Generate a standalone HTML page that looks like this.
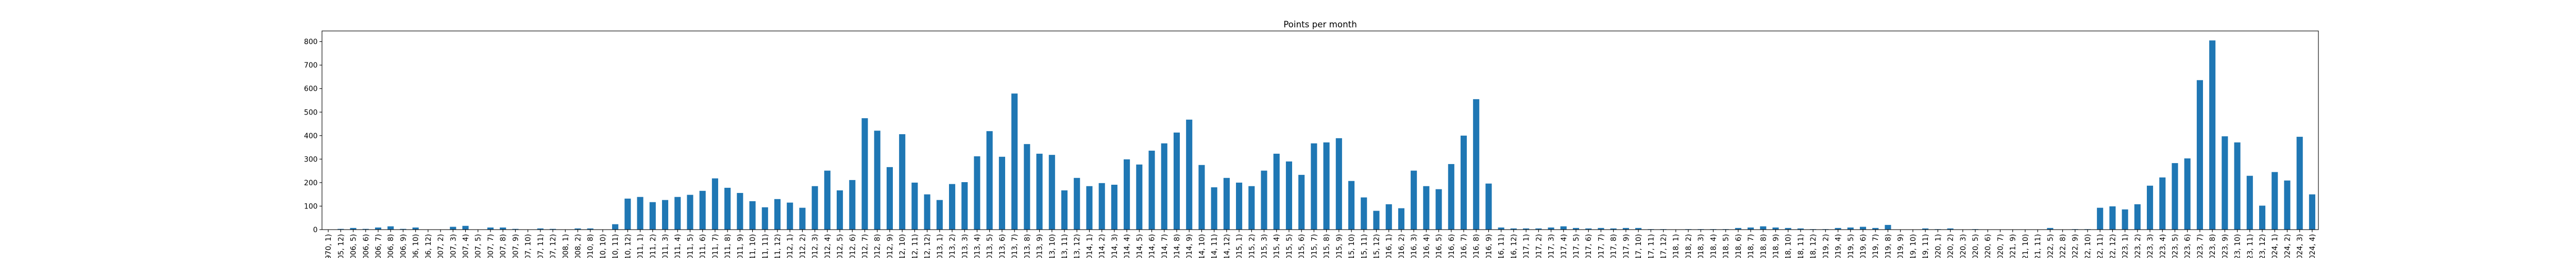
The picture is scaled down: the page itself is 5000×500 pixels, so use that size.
<!DOCTYPE html>
<html>
<head>
<meta charset="utf-8">
<style>
html,body{margin:0;padding:0;background:#fff;width:5000px;height:500px;overflow:hidden;}
svg{display:block;overflow:hidden;}
text{font-family:"DejaVu Sans","Liberation Sans",sans-serif;fill:#000;}
</style>
</head>
<body>
<svg id="chart" width="5000" height="500" viewBox="0 0 5000 500" xmlns="http://www.w3.org/2000/svg">
  <defs><clipPath id="frameclip"><rect x="0" y="0" width="5000" height="500"/></clipPath></defs>
  <rect x="0" y="0" width="5000" height="500" fill="#fff"/>
  <text x="2562.5" y="53" font-size="16.7" text-anchor="middle">Points per month</text>
  <g id="bars"></g>
  <g id="xticks" clip-path="url(#frameclip)"></g>
  <g id="yticks"></g>
  <rect x="625" y="60" width="3875" height="385" fill="none" stroke="#000" stroke-width="1.1"/>
</svg>
<script>
const categories = ["(1970, 1)","(2005, 12)","(2006, 5)","(2006, 6)","(2006, 7)","(2006, 8)","(2006, 9)","(2006, 10)","(2006, 12)","(2007, 2)","(2007, 3)","(2007, 4)","(2007, 5)","(2007, 7)","(2007, 8)","(2007, 9)","(2007, 10)","(2007, 11)","(2007, 12)","(2008, 1)","(2008, 2)","(2010, 8)","(2010, 10)","(2010, 11)","(2010, 12)","(2011, 1)",
"(2011, 2)","(2011, 3)","(2011, 4)","(2011, 5)","(2011, 6)","(2011, 7)","(2011, 8)","(2011, 9)","(2011, 10)","(2011, 11)","(2011, 12)","(2012, 1)","(2012, 2)","(2012, 3)","(2012, 4)","(2012, 5)","(2012, 6)","(2012, 7)","(2012, 8)","(2012, 9)","(2012, 10)","(2012, 11)","(2012, 12)","(2013, 1)","(2013, 2)","(2013, 3)","(2013, 4)","(2013, 5)","(2013, 6)",
"(2013, 7)","(2013, 8)","(2013, 9)","(2013, 10)","(2013, 11)","(2013, 12)","(2014, 1)","(2014, 2)","(2014, 3)","(2014, 4)","(2014, 5)","(2014, 6)","(2014, 7)","(2014, 8)","(2014, 9)","(2014, 10)","(2014, 11)","(2014, 12)","(2015, 1)","(2015, 2)","(2015, 3)","(2015, 4)","(2015, 5)","(2015, 6)","(2015, 7)","(2015, 8)","(2015, 9)","(2015, 10)",
"(2015, 11)","(2015, 12)","(2016, 1)","(2016, 2)","(2016, 3)","(2016, 4)","(2016, 5)","(2016, 6)","(2016, 7)","(2016, 8)","(2016, 9)","(2016, 11)","(2016, 12)","(2017, 1)","(2017, 2)","(2017, 3)","(2017, 4)","(2017, 5)","(2017, 6)","(2017, 7)","(2017, 8)","(2017, 9)","(2017, 10)","(2017, 11)","(2017, 12)","(2018, 1)","(2018, 2)","(2018, 3)","(2018, 4)",
"(2018, 5)","(2018, 6)","(2018, 7)","(2018, 8)","(2018, 9)","(2018, 10)","(2018, 11)","(2018, 12)","(2019, 2)","(2019, 4)","(2019, 5)","(2019, 6)","(2019, 7)","(2019, 8)","(2019, 9)","(2019, 10)","(2019, 11)","(2020, 1)","(2020, 2)","(2020, 3)","(2020, 5)","(2020, 6)","(2020, 7)","(2021, 9)","(2021, 10)","(2021, 11)","(2022, 5)","(2022, 8)",
"(2022, 9)","(2022, 10)","(2022, 11)","(2022, 12)","(2023, 1)","(2023, 2)","(2023, 3)","(2023, 4)","(2023, 5)","(2023, 6)","(2023, 7)","(2023, 8)","(2023, 9)","(2023, 10)","(2023, 11)","(2023, 12)","(2024, 1)","(2024, 2)","(2024, 3)","(2024, 4)"];
const points = [0,3,7,3,9,14,3,9,1,0,12,16,0,9,9,3,0,5,3,0,5,5,0,23,132,139,
117,126,139,148,165,218,178,156,121,95,130,115,93,185,251,167,211,474,421,266,406,200,150,126,194,202,312,419,310,
579,364,323,318,167,220,185,198,191,299,277,336,367,413,468,275,180,220,200,185,251,323,290,233,367,371,389,207,
137,80,108,91,251,185,172,279,400,555,196,9,5,5,5,9,14,7,5,7,5,7,7,2,2,0,2,2,2,
2,7,9,14,9,7,5,2,2,7,9,12,7,20,0,0,5,2,5,0,2,0,0,0,0,0,7,0,
2,2,93,99,86,108,187,222,283,303,636,805,397,371,229,102,245,209,395,150];
const yTickValues = [0,100,200,300,400,500,600,700,800];

const NS = "http://www.w3.org/2000/svg";
const plotLeft = 625, plotRight = 4500, plotTop = 60, plotBottom = 445;
const n = categories.length;
const yMax = Math.max(...points) * 1.05;
const step = (plotRight - plotLeft) / n;
function xPos(i){ return plotLeft + (i + 0.5) * step; }
function yPos(v){ return plotBottom - (v / yMax) * (plotBottom - plotTop); }

const barsG = document.getElementById('bars');
const xG = document.getElementById('xticks');
const yG = document.getElementById('yticks');
const barW = step * 0.5;

points.forEach(function(v, i){
  const r = document.createElementNS(NS, 'rect');
  
  
  const y = yPos(v);
  r.setAttribute('x', (xPos(i) - barW / 2).toFixed(2));
  r.setAttribute('y', y.toFixed(2));
  r.setAttribute('width', barW.toFixed(2));
  r.setAttribute('height', Math.max(0, plotBottom - y).toFixed(2));
  r.setAttribute('fill', '#1f77b4');
  barsG.appendChild(r);
});

categories.forEach(function(c, i){
  const x = xPos(i);
  const t = document.createElementNS(NS, 'line');
  
  
  t.setAttribute('x1', x); t.setAttribute('x2', x);
  t.setAttribute('y1', plotBottom); t.setAttribute('y2', plotBottom + 4.9);
  t.setAttribute('stroke', '#000'); t.setAttribute('stroke-width', '1.1');
  xG.appendChild(t);
  const lbl = document.createElementNS(NS, 'text');
  
  
  lbl.setAttribute('font-size', '13.9');
  lbl.setAttribute('text-anchor', 'end');
  lbl.setAttribute('transform', 'translate(' + (x + 5) + ',' + (plotBottom + 8.5) + ') rotate(-90)');
  lbl.textContent = c;
  xG.appendChild(lbl);
});

yTickValues.forEach(function(v){
  const y = yPos(v);
  const t = document.createElementNS(NS, 'line');
  
  
  t.setAttribute('x1', plotLeft - 4.9); t.setAttribute('x2', plotLeft);
  t.setAttribute('y1', y); t.setAttribute('y2', y);
  t.setAttribute('stroke', '#000'); t.setAttribute('stroke-width', '1.1');
  yG.appendChild(t);
  const lbl = document.createElementNS(NS, 'text');
  
  
  lbl.setAttribute('font-size', '13.9');
  lbl.setAttribute('text-anchor', 'end');
  lbl.setAttribute('x', plotLeft - 8.5);
  lbl.setAttribute('y', y + 5);
  lbl.textContent = String(v);
  yG.appendChild(lbl);
});
</script>
</body>
</html>
